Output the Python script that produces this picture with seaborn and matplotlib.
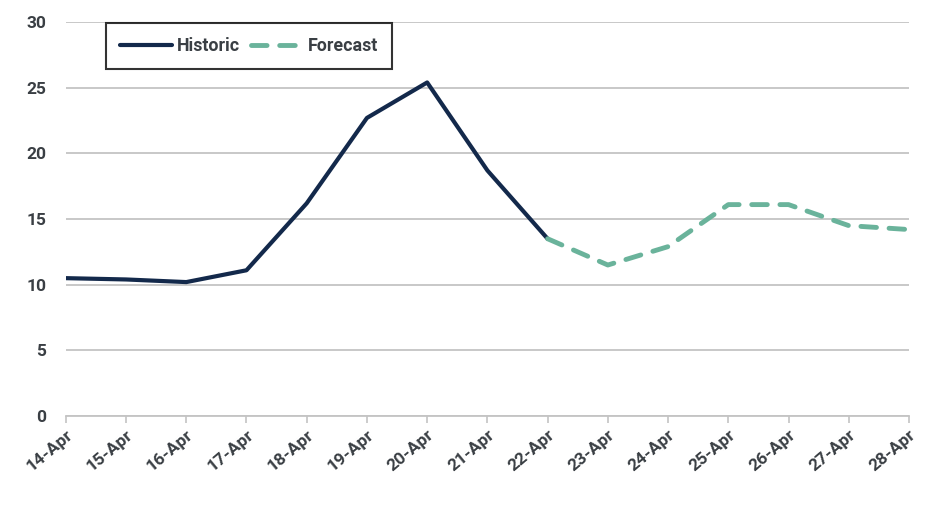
import matplotlib
matplotlib.use("Agg")
import matplotlib.pyplot as plt
import seaborn as sns
import pandas as pd

# Data
dates = ["14-Apr", "15-Apr", "16-Apr", "17-Apr", "18-Apr", "19-Apr", "20-Apr", "21-Apr",
         "22-Apr", "23-Apr", "24-Apr", "25-Apr", "26-Apr", "27-Apr", "28-Apr"]
historic = [10.5, 10.4, 10.2, 11.1, 16.2, 22.7, 25.4, 18.7, 13.5]
forecast = [13.5, 11.5, 12.9, 16.1, 16.1, 14.5, 14.2]
y_ticks = [0, 5, 10, 15, 20, 25, 30]

navy = "#13294b"
green = "#6ab39b"
text_col = "#3a3f44"

sns.set_theme(style="white")
plt.rcParams["font.family"] = ["Roboto", "DejaVu Sans"]

hist_df = pd.DataFrame({"x": range(len(historic)), "y": historic})
fc_df = pd.DataFrame({"x": range(len(historic) - 1, len(historic) - 1 + len(forecast)), "y": forecast})

fig, ax = plt.subplots(figsize=(9.4, 5.13), dpi=100)
fig.subplots_adjust(left=0.070, right=0.967, top=0.957, bottom=0.189)

sns.lineplot(data=hist_df, x="x", y="y", ax=ax, color=navy, linewidth=3, label="Historic")
sns.lineplot(data=fc_df, x="x", y="y", ax=ax, color=green, linewidth=3.5,
             linestyle=(0, (3.2, 2.6)), dash_capstyle="round", label="Forecast")

ax.set_xlim(0, len(dates) - 1)
ax.set_ylim(0, 30)
ax.set_yticks(y_ticks)
ax.set_xticks(range(len(dates)))
ax.set_xticklabels(dates, rotation=40, ha="right", rotation_mode="anchor")
ax.set_xlabel("")
ax.set_ylabel("")

ax.yaxis.grid(True, color="#c4c4c4", linewidth=1.3)
ax.set_axisbelow(True)
for s in ["left", "right", "top"]:
    ax.spines[s].set_visible(False)
ax.spines["bottom"].set_color("#c4c4c4")
ax.spines["bottom"].set_linewidth(1.3)

ax.tick_params(axis="x", which="major", bottom=True, length=5, width=1.2, color="#c4c4c4",
               labelsize=12.5, labelcolor=text_col, pad=3)
ax.tick_params(axis="y", length=0, labelsize=12.5, labelcolor=text_col, pad=14)
for lbl in ax.get_xticklabels() + ax.get_yticklabels():
    lbl.set_fontweight("bold")

leg = ax.legend(loc="upper left", bbox_to_anchor=(0.037, 1.021), ncol=2, frameon=True,
                fancybox=False, edgecolor="black", fontsize=12.8, handlelength=2.9,
                columnspacing=0.6, handletextpad=0.3, borderpad=0.8)
leg.get_frame().set_linewidth(1.5)
for t in leg.get_texts():
    t.set_color(text_col)
    t.set_fontweight("bold")

fig.savefig("out.png", dpi=100, facecolor="white")
